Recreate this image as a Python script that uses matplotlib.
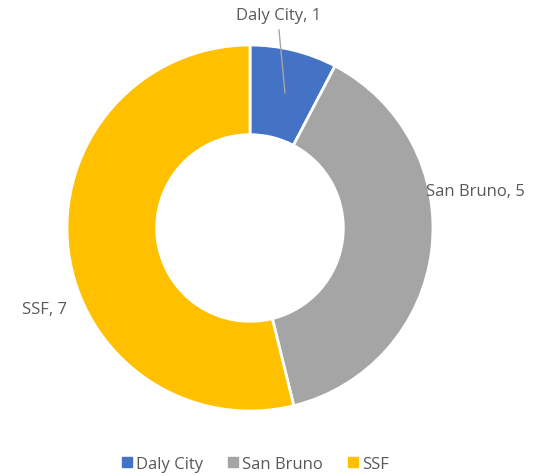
import matplotlib.pyplot as plt
from matplotlib.lines import Line2D

plt.rcParams['font.family'] = ['Open Sans', 'DejaVu Sans']

categories = ['Daly City', 'San Bruno', 'SSF']
values = [1, 5, 7]
colors = ['#4472C4', '#A5A5A5', '#FFC000']

fig = plt.figure(figsize=(5.52, 4.77), dpi=100)
ax = fig.add_axes([0, 0, 1, 1])

cx, cy = 250, 248
R = 183
wedges, _ = ax.pie(values, colors=colors, startangle=90, counterclock=False,
                   center=(cx, cy), radius=R, frame=True,
                   wedgeprops=dict(width=R * 0.49, edgecolor='white', linewidth=2))
ax.set_xlim(0, 552)
ax.set_ylim(0, 477)
ax.set_aspect('equal')
ax.axis('off')

txt = dict(fontsize=12, color='#595959')
# data labels
ax.text(279, 477 - 16, f'{categories[0]}, {values[0]}', ha='center', va='center', **txt)
ax.plot([279, 285], [477 - 31, 477 - 94], color='#A6A6A6', lw=1)
ax.text(475, 477 - 192, f'{categories[1]}, {values[1]}', ha='center', va='center', **txt)
ax.text(44, 477 - 310, f'{categories[2]}, {values[2]}', ha='center', va='center', **txt)

handles = [Line2D([], [], marker='s', ls='', color=c, markersize=7) for c in colors]
leg = fig.legend(handles, categories, loc='center', bbox_to_anchor=(254 / 552, 1 - 465 / 477),
                 ncol=3, frameon=False, fontsize=12, handletextpad=0.05, columnspacing=1.3,
                 handlelength=1)
for t in leg.get_texts():
    t.set_color('#595959')

fig.savefig('out.png', dpi=100)
